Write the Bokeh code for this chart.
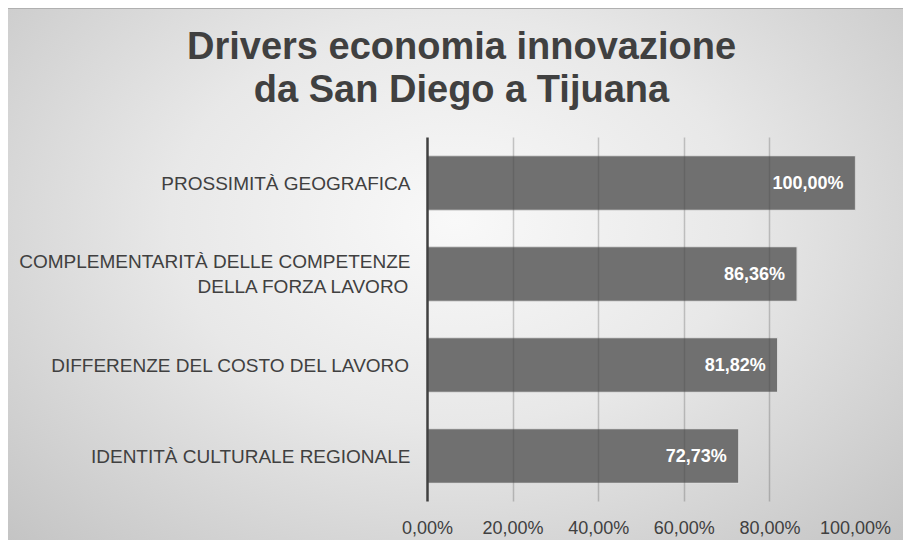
from bokeh.plotting import figure
from bokeh.models import (ColumnDataSource, FactorRange, Range1d, FixedTicker,
                          LabelSet, Div)
from bokeh.layouts import column
from bokeh.core.properties import value
from bokeh.embed import file_html
from bokeh.resources import INLINE

# ---- data ----
categories = [
    "PROSSIMITÀ GEOGRAFICA",
    "COMPLEMENTARITÀ DELLE COMPETENZE\nDELLA FORZA LAVORO",
    "DIFFERENZE DEL COSTO DEL LAVORO",
    "IDENTITÀ CULTURALE REGIONALE",
]
values = [100.00, 86.36, 81.82, 72.73]
value_labels = ["100,00%", "86,36%", "81,82%", "72,73%"]
x_ticks = [0, 20, 40, 60, 80, 100]
x_tick_labels = ["0,00%", "20,00%", "40,00%", "60,00%", "80,00%", "100,00%"]
title_lines = ["Drivers economia innovazione", "da San Diego a Tijuana"]

FONT = "Liberation Sans"
TXT = "#404040"

src = ColumnDataSource(dict(cat=categories, val=values, lab=value_labels))

W = 895
TITLE_H = 100
PH = 432
LEFT, RIGHT, TOP, BOTTOM = 419, 48, 29, 32

title = Div(
    text=(f"<div style='position:relative;left:6px;width:{W}px;padding-top:17px;"
          "text-align:center;font-family:\"Liberation Sans\";font-size:38px;"
          "font-weight:bold;color:#404040;line-height:43px;white-space:nowrap'>"
          + "<br>".join(title_lines) + "</div>"),
    width=W, height=TITLE_H, margin=0,
)

p = figure(
    width=W, height=PH,
    y_range=FactorRange(factors=list(reversed(categories)), range_padding=0),
    x_range=Range1d(0, 100),
    output_backend="svg", toolbar_location=None,
    min_border_left=LEFT, min_border_right=RIGHT,
    min_border_top=TOP, min_border_bottom=BOTTOM,
    margin=0,
)
p.title = None
p.border_fill_color = None
p.background_fill_color = None
p.outline_line_color = None

p.hbar(y="cat", right="val", left=0, height=0.6, source=src,
       fill_color="#707070", line_color="#dcdcdc", line_width=1.2)

labels = LabelSet(x="val", y="cat", text="lab", source=src, x_offset=-12,
                  text_align="right", text_baseline="middle",
                  text_color="white", text_font=value(FONT),
                  text_font_size="18px", text_font_style="bold")
p.add_layout(labels)

# x axis
p.xaxis.ticker = FixedTicker(ticks=x_ticks)
p.xaxis.major_label_overrides = {t: l for t, l in zip(x_ticks, x_tick_labels)}
p.xaxis.axis_line_color = None
p.xaxis.major_tick_line_color = None
p.xaxis.minor_tick_line_color = None
p.xaxis.major_label_standoff = 10
p.xaxis.major_label_text_font = FONT
p.xaxis.major_label_text_font_size = "18px"
p.xaxis.major_label_text_color = TXT

# y axis
p.yaxis.axis_line_color = "#404040"
p.yaxis.axis_line_width = 2.5
p.yaxis.major_tick_line_color = None
p.yaxis.minor_tick_line_color = None
p.yaxis.major_label_standoff = 11
p.yaxis.major_label_text_font = FONT
p.yaxis.major_label_text_font_size = "19px"
p.yaxis.major_label_text_color = TXT

# grid
p.ygrid.grid_line_color = None
p.xgrid.grid_line_color = "#474747"
p.xgrid.grid_line_alpha = 0.28
p.xgrid.grid_line_width = 1.5
p.xgrid.level = "guide"

layout = column(title, p, spacing=0, width=W, height=TITLE_H + PH)
layout.styles = {
    "margin": "8px 0 0 8px",
    "background": "radial-gradient(ellipse farthest-corner at 50% 40%, #f9f9f9 0%, #e8e8e8 45%, #c4c4c4 100%)",
    "box-shadow": "inset 0 1px 0 #b0b0b0",
}

open("out.html", "w").write(file_html(layout, INLINE))
